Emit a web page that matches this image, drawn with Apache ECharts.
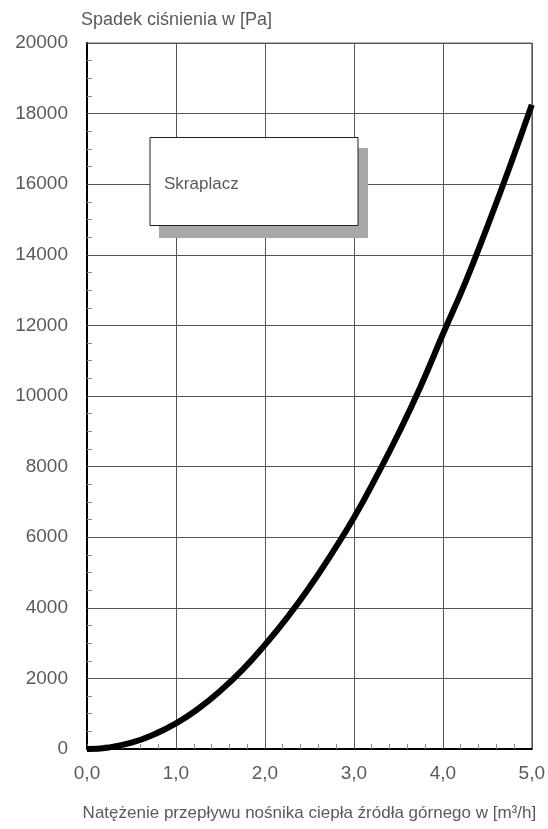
<!DOCTYPE html>
<html>
<head>
<meta charset="utf-8">
<script src="https://cdn.jsdelivr.net/npm/echarts@6/dist/echarts.min.js"></script>
<style>
  html, body { margin: 0; padding: 0; background: #fff; }
  #chart { width: 548px; height: 829px; }
</style>
</head>
<body>
<div id="chart"></div>
<script>
// Flow rate of the upper-source heat carrier [m³/h]
const flowRates = [0, 0.25, 0.5, 0.75, 1.0, 1.25, 1.5, 1.75, 2.0, 2.25, 2.5, 2.75,
                   3.0, 3.25, 3.5, 3.75, 4.0, 4.25, 4.5, 4.75, 5.0];
// Pressure drop across the condenser [Pa]
const pressureDrop = [0, 45, 180, 410, 725, 1140, 1650, 2250, 2950, 3720, 4580, 5530,
                      6550, 7700, 8930, 10270, 11750, 13200, 14800, 16480, 18250];
const seriesName = 'Skraplacz';
const xTitle = 'Natężenie przepływu nośnika ciepła źródła górnego w [m³/h]';
const yTitle = 'Spadek ciśnienia w [Pa]';

const FONT = '"Liberation Sans", Arial, sans-serif';
const TEXT = '#5a5a5a';

const chart = echarts.init(document.getElementById('chart'), null, { renderer: 'canvas' });

const points = flowRates.map((x, i) => [x, pressureDrop[i]]);

chart.setOption({
  animation: false,
  backgroundColor: '#fff',
  grid: {
    left: 87, right: 16, top: 43, bottom: 80,
    show: true, borderColor: '#666', borderWidth: 1
  },
  xAxis: {
    type: 'value',
    min: 0, max: 5, interval: 1,
    axisLine: { show: true, onZero: false, lineStyle: { color: '#000', width: 2 } },
    axisTick: { show: true, inside: true, length: 5, lineStyle: { color: '#555', width: 1 } },
    minorTick: { show: true, splitNumber: 5, length: 5, lineStyle: { color: '#888', width: 1 } },
    splitLine: { show: true, lineStyle: { color: '#555', width: 1 } },
    axisLabel: {
      margin: 15, fontFamily: FONT, fontSize: 19, color: TEXT,
      formatter: v => v.toFixed(1).replace('.', ',')
    },
    name: xTitle,
    nameLocation: 'middle',
    nameGap: 56,
    nameTextStyle: { fontFamily: FONT, fontSize: 17, color: TEXT }
  },
  yAxis: {
    type: 'value',
    min: 0, max: 20000, interval: 2000,
    axisLine: { show: true, lineStyle: { color: '#000', width: 2 } },
    axisTick: { show: true, inside: true, length: 5, lineStyle: { color: '#555', width: 1 } },
    minorTick: { show: true, splitNumber: 4, length: 5, lineStyle: { color: '#888', width: 1 } },
    splitLine: { show: true, lineStyle: { color: '#555', width: 1 } },
    axisLabel: {
      margin: 19, fontFamily: FONT, fontSize: 19, color: TEXT,
      formatter: v => String(v)
    },
    name: yTitle,
    nameLocation: 'end',
    nameGap: 14,
    nameTextStyle: { fontFamily: FONT, fontSize: 18, color: TEXT, align: 'left', padding: [0, 0, 0, -6] }
  },
  graphic: [
    { type: 'rect', shape: { x: 159, y: 148, width: 209, height: 90 }, style: { fill: '#a8a8a8' }, z: 50 },
    { type: 'rect', shape: { x: 150, y: 137.5, width: 208, height: 88 }, style: { fill: '#fff', stroke: '#222', lineWidth: 1 }, z: 51 },
    { type: 'text', x: 164, y: 184, style: { text: seriesName, font: '17px ' + FONT, fill: '#5a5a5a', verticalAlign: 'middle' }, z: 52 }
  ],
  series: [{
    name: seriesName,
    type: 'line',
    data: points,
    smooth: true,
    showSymbol: false,
    symbol: 'none',
    lineStyle: { color: '#000', width: 6 },
    clip: false,
    z: 10
  }]
});
</script>
</body>
</html>
